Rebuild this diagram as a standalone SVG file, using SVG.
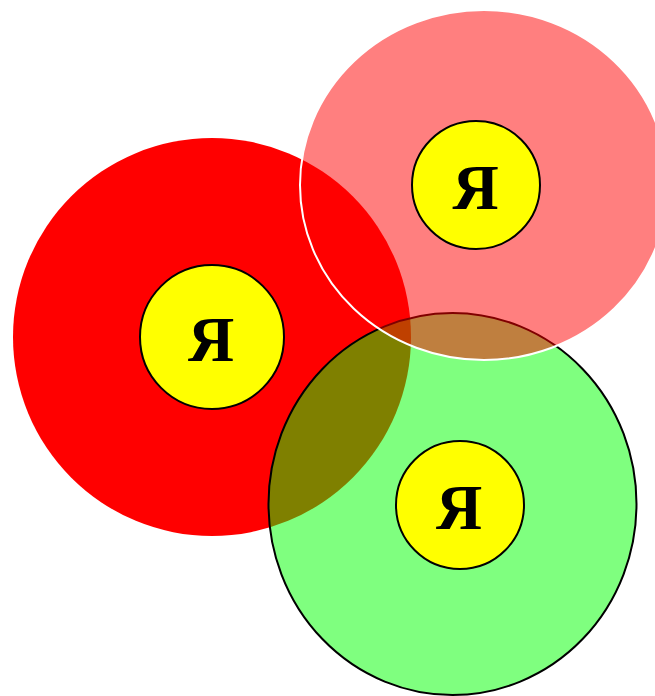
<svg xmlns="http://www.w3.org/2000/svg" width="655" height="696" viewBox="0 0 655 696">
<style>
.inner{fill:#ffff00;stroke:#000;stroke-width:2}
.lbl{font-family:"Liberation Serif","Times New Roman",serif;font-weight:bold;font-size:64px;fill:#000;text-anchor:middle}
</style>
<rect width="655" height="696" fill="#fff"/>
<g id="red">
<ellipse cx="212" cy="337" rx="199" ry="199" fill="#ff0000"/>
</g>
<g id="green">
<ellipse cx="452.5" cy="504" rx="184" ry="191" fill="#00ff00" fill-opacity="0.5" stroke="#000" stroke-width="2"/>
</g>
<g id="pink">
<ellipse cx="484" cy="185" rx="184" ry="175" fill="#ff0000" fill-opacity="0.5" stroke="#fff" stroke-width="2"/>
</g>
<g id="node-left">
<circle class="inner" cx="212" cy="337" r="72"/>
<text class="lbl" x="211" y="361">Я</text>
</g>
<g id="node-top">
<circle class="inner" cx="476" cy="185" r="64"/>
<text class="lbl" x="475.5" y="209">Я</text>
</g>
<g id="node-bottom">
<circle class="inner" cx="460" cy="505" r="64"/>
<text class="lbl" x="459" y="529">Я</text>
</g>
<g id="connectors"/>
</svg>
